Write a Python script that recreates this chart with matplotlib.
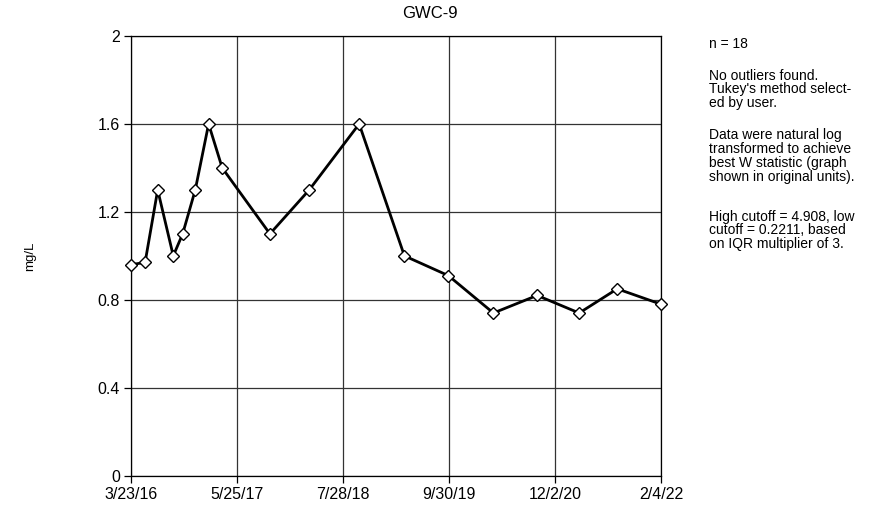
import matplotlib
matplotlib.use("Agg")
import matplotlib.pyplot as plt
import pandas as pd

plt.rcParams['font.family'] = ['Liberation Sans', 'DejaVu Sans']

# sample dates and concentrations
dates = ['2016-03-23', '2016-05-19', '2016-07-09', '2016-09-10', '2016-10-18',
         '2016-12-08', '2017-01-31', '2017-03-27', '2017-10-06', '2018-03-14',
         '2018-10-02', '2019-04-03', '2019-09-28', '2020-03-28', '2020-09-21',
         '2021-03-10', '2021-08-11', '2022-02-04']
values = [0.96, 0.97, 1.30, 1.00, 1.10, 1.30, 1.60, 1.40, 1.10, 1.30,
          1.60, 1.00, 0.91, 0.74, 0.82, 0.74, 0.85, 0.78]
tick_dates = ['2016-03-23', '2017-05-25', '2018-07-28', '2019-09-30',
              '2020-12-02', '2022-02-04']
tick_labels = ['3/23/16', '5/25/17', '7/28/18', '9/30/19', '12/2/20', '2/4/22']
y_ticks = [0, 0.4, 0.8, 1.2, 1.6, 2]
y_labels = ['0', '0.4', '0.8', '1.2', '1.6', '2']

x = pd.to_datetime(dates)
xt = pd.to_datetime(tick_dates)

fig = plt.figure(figsize=(8.81, 5.09), dpi=100)
ax = fig.add_axes([131/881, 1 - 475.7/509, 530/881, 439.7/509])

ax.plot(x, values, color='k', lw=2, marker='D', markersize=6.5,
        markerfacecolor='w', markeredgecolor='k', markeredgewidth=1, zorder=3,
        clip_on=False)

ax.set_xlim(xt[0], xt[-1])
ax.set_ylim(0, 2)
ax.set_xticks(xt)
ax.set_xticklabels(tick_labels)
ax.set_yticks(y_ticks)
ax.set_yticklabels(y_labels)
ax.grid(True, color='#333333', lw=0.9)
ax.tick_params(direction='out', length=5, width=0.9, labelsize=11.5, pad=3)
for s in ax.spines.values():
    s.set_linewidth(0.9)

fig.text(430/881, 1 - 13/509, 'GWC-9', fontsize=12, ha='center', va='center')
fig.text(30/881, 1 - 256/509, 'mg/L', rotation=90, fontsize=9.5,
         ha='center', va='center')

notes = [
    (45, 'n = 18'),
    (76, 'No outliers found.\nTukey\'s method select-\ned by user.'),
    (136, 'Data were natural log\ntransformed to achieve\nbest W statistic (graph\nshown in original units).'),
    (217, 'High cutoff = 4.908, low\ncutoff = 0.2211, based\non IQR multiplier of 3.'),
]
for yy, txt in notes:
    fig.text(709/881, 1 - (yy - 7.5)/509, txt, fontsize=10, ha='left',
             va='top', linespacing=0.98)

fig.savefig('out.png', dpi=100)
